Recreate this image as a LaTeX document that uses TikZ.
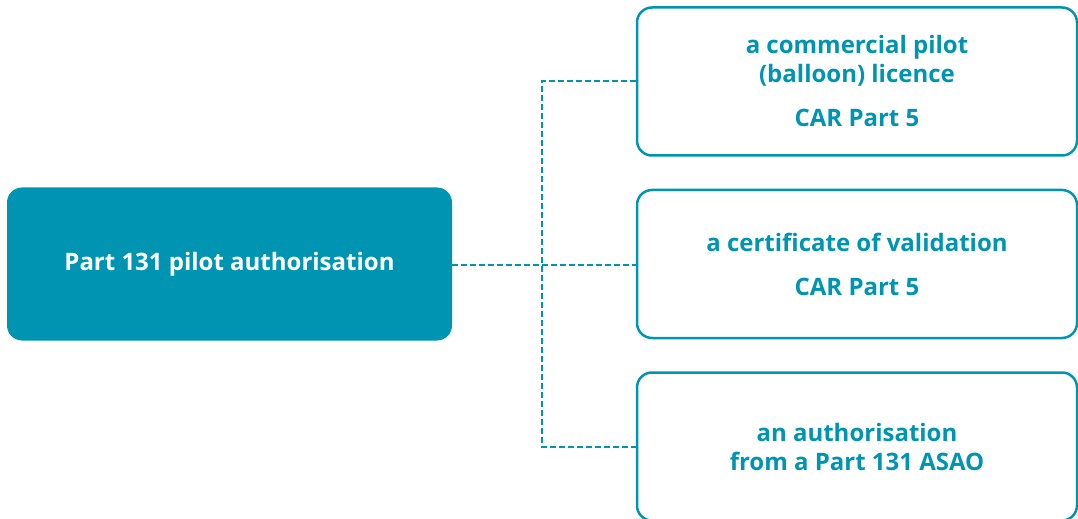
\documentclass[tikz,border=0pt]{standalone}
\usepackage{fontspec}
\setmainfont{Open Sans}
\usepackage{xcolor}
\usetikzlibrary{positioning}
\definecolor{caateal}{HTML}{0094B3}

\begin{document}
\begin{tikzpicture}[x=0.5pt, y=-0.5pt,
    font=\fontsize{12}{14.5}\selectfont\bfseries,
    main/.style={fill=caateal, text=white, rounded corners=7.5pt, minimum width=222.5pt, minimum height=76.5pt},
    opt/.style={draw=caateal, line width=1.25pt, text=caateal, align=center, rounded corners=7.5pt, minimum width=220pt, minimum height=74pt},
    link/.style={draw=caateal, line width=1pt, dash pattern=on 3pt off 1.5pt}]
    \useasboundingbox (0,0) rectangle (1078,519);
            \node[main] (pa) at (229.5,264) {Part 131 pilot authorisation};
            \node[opt] (cpl) at (857,81.5) {a commercial pilot\\(balloon) licence\\[7.5pt]CAR Part 5};
            \node[opt, below=16pt of cpl] (cov) {a certificate of validation\\[7.5pt]CAR Part 5};
            \node[opt, below=16pt of cov] (asao) {an authorisation\\from a Part 131 ASAO};
            \coordinate (j) at (541.5,265);
            \draw[link] (pa.east |- j) -- (j) -- (j -| cov.west);
            \draw[link] (cpl.west) -| (j) |- (asao.west);
        \end{tikzpicture}
\end{document}
